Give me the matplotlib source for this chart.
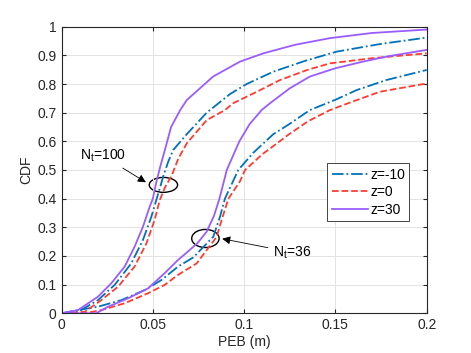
import numpy as np
import matplotlib
matplotlib.use("Agg")
import matplotlib.pyplot as plt
from matplotlib.patches import Ellipse

plt.rcParams['font.family'] = ['Liberation Sans', 'DejaVu Sans']

# Nt = 100
peb100_zm10 = [0, 0.009, 0.020, 0.0291, 0.0382, 0.0446, 0.0492, 0.0519, 0.054, 0.0558, 0.0585,
               0.0612, 0.0686, 0.0795, 0.0923, 0.1014, 0.116, 0.133, 0.1507, 0.175, 0.2]
cdf100_zm10 = [0, 0.005, 0.046, 0.099, 0.174, 0.256, 0.337, 0.395, 0.44, 0.48, 0.53,
               0.57, 0.625, 0.700, 0.765, 0.80, 0.843, 0.88, 0.913, 0.94, 0.962]
peb100_z0 = [0, 0.0127, 0.0218, 0.031, 0.040, 0.0465, 0.051, 0.0538, 0.0567, 0.0603, 0.064,
             0.0686, 0.0795, 0.0895, 0.094, 0.107, 0.1197, 0.135, 0.147, 0.17, 0.2]
cdf100_z0 = [0, 0.005, 0.046, 0.093, 0.163, 0.244, 0.326, 0.395, 0.44, 0.48, 0.54,
             0.593, 0.674, 0.709, 0.733, 0.773, 0.814, 0.85, 0.872, 0.89, 0.907]
peb100_z30 = [0, 0.009, 0.020, 0.0273, 0.0346, 0.040, 0.0446, 0.0483, 0.050, 0.052, 0.054,
              0.0576, 0.060, 0.065, 0.0686, 0.083, 0.0977, 0.1105, 0.128, 0.147, 0.17, 0.2]
cdf100_z30 = [0, 0.011, 0.058, 0.105, 0.163, 0.232, 0.302, 0.372, 0.40, 0.46, 0.51,
              0.593, 0.65, 0.709, 0.744, 0.826, 0.878, 0.907, 0.937, 0.96, 0.978, 0.99]

# Nt = 36
peb36_zm10 = [0, 0.009, 0.020, 0.0328, 0.0456, 0.0547, 0.0638, 0.0722, 0.0831, 0.0868, 0.0895,
              0.0968, 0.105, 0.116, 0.124, 0.136, 0.15, 0.1617, 0.178, 0.2]
cdf36_zm10 = [0, 0.011, 0.023, 0.046, 0.081, 0.116, 0.163, 0.195, 0.267, 0.337, 0.40,
              0.50, 0.56, 0.625, 0.657, 0.709, 0.745, 0.779, 0.814, 0.849]
peb36_z0 = [0, 0.0127, 0.0218, 0.0346, 0.0474, 0.0565, 0.0638, 0.074, 0.085, 0.0877, 0.0914,
            0.0977, 0.1005, 0.11, 0.118, 0.124, 0.135, 0.147, 0.16, 0.1744, 0.2]
cdf36_z0 = [0, 0, 0.011, 0.035, 0.07, 0.099, 0.134, 0.174, 0.267, 0.326, 0.40,
            0.46, 0.50, 0.555, 0.593, 0.622, 0.67, 0.709, 0.74, 0.773, 0.802]
peb36_z30 = [0, 0.019, 0.0255, 0.0364, 0.0474, 0.0565, 0.0638, 0.0686, 0.0745, 0.0795, 0.0835,
             0.0865, 0.0905, 0.0974, 0.103, 0.1096, 0.1142, 0.125, 0.136, 0.15, 0.165, 0.18, 0.2]
cdf36_z30 = [0, 0, 0.023, 0.052, 0.087, 0.14, 0.186, 0.212, 0.245, 0.285, 0.34,
             0.40, 0.50, 0.60, 0.66, 0.709, 0.733, 0.785, 0.826, 0.855, 0.878, 0.898, 0.919]

labels = ['z=-10', 'z=0', 'z=30']
colors = ['#0072BD', '#FF3B30', '#9B5CFF']
styles = ['-.', '--', '-']

fig = plt.figure(figsize=(4.71, 3.53), dpi=100)
ax = fig.add_axes([0.1306, 0.1125, 0.7754, 0.8119])

sets100 = [(peb100_zm10, cdf100_zm10), (peb100_z0, cdf100_z0), (peb100_z30, cdf100_z30)]
sets36 = [(peb36_zm10, cdf36_zm10), (peb36_z0, cdf36_z0), (peb36_z30, cdf36_z30)]
for i in range(3):
    ax.plot(*sets100[i], styles[i], color=colors[i], lw=1.3, label=labels[i])
    ax.plot(*sets36[i], styles[i], color=colors[i], lw=1.3)

# ellipses marking the two groups
ax.add_patch(Ellipse((0.0558, 0.448), 0.0155, 0.052, fill=False, color='k', lw=1.0))
ax.add_patch(Ellipse((0.0788, 0.261), 0.015, 0.063, fill=False, color='k', lw=1.0))

arrow = dict(arrowstyle='-|>', color='k', lw=0.6, mutation_scale=12)
ax.annotate('N$_\\mathregular{t}$=100', xy=(0.0475, 0.452), xytext=(0.0225, 0.55),
            ha='center', va='center', fontsize=10, arrowprops=arrow)
ax.annotate('N$_\\mathregular{t}$=36', xy=(0.0865, 0.262), xytext=(0.1265, 0.212),
            ha='center', va='center', fontsize=10, arrowprops=arrow)

ax.set_xlim(0, 0.2)
ax.set_ylim(0, 1)
ax.set_xticks([0, 0.05, 0.1, 0.15, 0.2])
ax.set_xticklabels(['0', '0.05', '0.1', '0.15', '0.2'])
ax.set_yticks(np.arange(0, 1.01, 0.1))
ax.set_yticklabels(['0', '0.1', '0.2', '0.3', '0.4', '0.5', '0.6', '0.7', '0.8', '0.9', '1'])
ax.set_xlabel('PEB (m)', fontsize=10, color='#262626', labelpad=2)
ax.set_ylabel('CDF', fontsize=10, color='#262626', labelpad=3)
ax.tick_params(direction='in', top=True, right=True, labelsize=10, colors='#262626', length=3)
ax.grid(True, color='#e3e3e3', lw=0.7)
for s in ax.spines.values():
    s.set_color('#262626')
    s.set_linewidth(0.8)

leg = ax.legend(loc='upper left', bbox_to_anchor=(0.728, 0.523), fontsize=10, handlelength=2.6,
                handletextpad=0.2, borderpad=0.3, labelspacing=0.25, fancybox=False,
                framealpha=1, edgecolor='#262626', borderaxespad=0)
leg.get_frame().set_linewidth(0.6)

fig.savefig('out.png', dpi=100)
